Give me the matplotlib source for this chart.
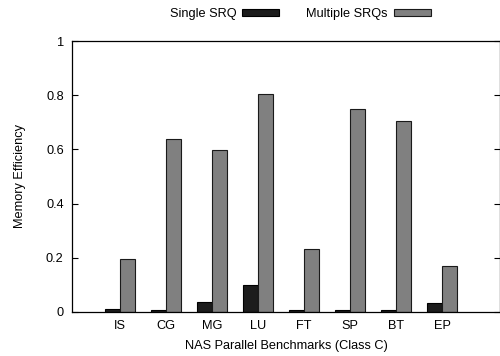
import matplotlib
matplotlib.use("Agg")
import matplotlib.pyplot as plt
import numpy as np

plt.rcParams['font.family'] = ['Liberation Sans', 'DejaVu Sans']

categories = ["IS", "CG", "MG", "LU", "FT", "SP", "BT", "EP"]
single_srq = [0.012, 0.006, 0.037, 0.101, 0.009, 0.007, 0.007, 0.035]
multiple_srqs = [0.197, 0.638, 0.598, 0.804, 0.231, 0.748, 0.706, 0.171]
yticks = [0, 0.2, 0.4, 0.6, 0.8, 1]
yticklabels = ["0", "0.2", "0.4", "0.6", "0.8", "1"]

fs = 9.2
fig = plt.figure(figsize=(5.0, 3.56), dpi=100)
ax = fig.add_axes([72/500, 1-312/356, 428/500, 271/356])

x = np.arange(len(categories))
w = 0.33
ax.bar(x - w/2, single_srq, w, color='#1c1c1c', edgecolor='#000000', linewidth=0.8, label='Single SRQ')
ax.bar(x + w/2, multiple_srqs, w, color='#808080', edgecolor='#1a1a1a', linewidth=0.8, label='Multiple SRQs')

ax.set_xlim(-1.04, 8.26)
ax.set_ylim(0, 1)
ax.set_xticks(x)
ax.set_xticklabels(categories, fontsize=fs)
ax.tick_params(axis='x', length=0, pad=6)
ax.set_yticks(yticks)
ax.set_yticklabels(yticklabels, fontsize=fs)
ax.tick_params(axis='y', direction='in', length=4, right=True, width=0.8, pad=6)
for s in ax.spines.values():
    s.set_linewidth(0.9)

ax.set_xlabel("NAS Parallel Benchmarks (Class C)", fontsize=fs, labelpad=5.5)
ax.set_ylabel("Memory Efficiency", fontsize=fs, labelpad=14)

leg = ax.legend(loc='center', bbox_to_anchor=(0.533, 1.10), ncol=2, frameon=False,
                markerfirst=False, fontsize=fs, handlelength=2.9, handleheight=0.4,
                columnspacing=2.1, handletextpad=0.47, borderpad=0, borderaxespad=0)

fig.savefig("out.png", dpi=100)
